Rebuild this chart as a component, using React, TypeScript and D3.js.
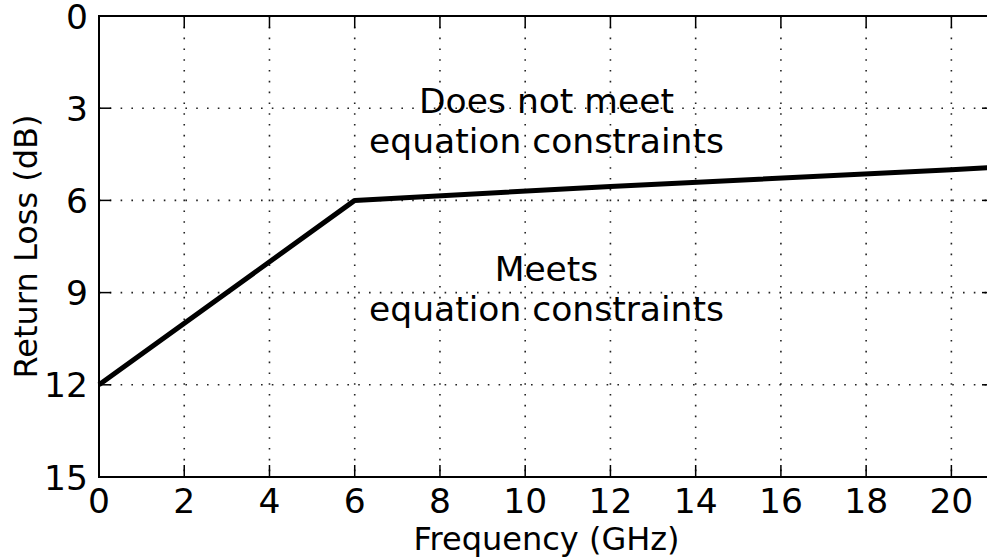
import { useEffect, useRef } from 'react';
import * as d3 from 'd3';

// ── Data ──

const FREQ_GHZ = [0, 6, 12, 20, 21];
const RETURN_LOSS_DB = [12, 6, 5.55, 5.0, 4.93];

const X_TICKS = [0, 2, 4, 6, 8, 10, 12, 14, 16, 18, 20];
const Y_TICKS = [0, 3, 6, 9, 12, 15];

const LABEL_UPPER = ['Does not meet', 'equation constraints'];
const LABEL_LOWER = ['Meets', 'equation constraints'];

const W = 987;
const H = 560;
const M = { left: 99, top: 16, right: -7, bottom: 83 };
const FONT = '"DejaVu Sans", sans-serif';
const FS_TICK = 34.5;
const FS_NOTE = 34.5;
const FS_TITLE = 32;

export default function App() {
  const svgRef = useRef<SVGSVGElement>(null);

  useEffect(() => {
    const svgEl = svgRef.current;
    if (!svgEl) return;
    const svg = d3.select(svgEl);
    svg.selectAll('*').remove();

    const x = d3.scaleLinear().domain([0, 21]).range([M.left, W - M.right]);
    const y = d3.scaleLinear().domain([0, 15]).range([M.top, H - M.bottom]);
    const [x0, x1] = x.range();
    const [y0, y1] = y.range();

    const g = svg.append('g');

    // grid (dotted)
    const grid = g.append('g').attr('stroke', '#222').attr('stroke-width', 1.6)
      .attr('stroke-dasharray', '1.6,9.2');
    grid.selectAll('.gx').data(X_TICKS.filter((t) => t > 0)).enter().append('line')
      .attr('x1', (d) => x(d)).attr('x2', (d) => x(d))
      .attr('y1', y0).attr('y2', y1);
    grid.selectAll('.gy').data(Y_TICKS.filter((t) => t > 0 && t < 15)).enter().append('line')
      .attr('y1', (d) => y(d)).attr('y2', (d) => y(d))
      .attr('x1', x0).attr('x2', x1);

    // curve
    const line = d3.line<number>().x((_, i) => x(FREQ_GHZ[i])).y((d) => y(d));
    g.append('path').datum(RETURN_LOSS_DB)
      .attr('fill', 'none').attr('stroke', '#000').attr('stroke-width', 5)
      .attr('stroke-linejoin', 'round')
      .attr('d', line);

    // ticks (inward, all sides)
    const TL = 12;
    const ticks = g.append('g').attr('stroke', '#000').attr('stroke-width', 1.5);
    X_TICKS.forEach((t) => {
      ticks.append('line').attr('x1', x(t)).attr('x2', x(t)).attr('y1', y1).attr('y2', y1 - TL);
      ticks.append('line').attr('x1', x(t)).attr('x2', x(t)).attr('y1', y0).attr('y2', y0 + TL);
    });
    Y_TICKS.forEach((t) => {
      ticks.append('line').attr('y1', y(t)).attr('y2', y(t)).attr('x1', x0).attr('x2', x0 + TL);
      ticks.append('line').attr('y1', y(t)).attr('y2', y(t)).attr('x1', x1).attr('x2', x1 - TL);
    });

    // spines
    g.append('rect').attr('x', x0).attr('y', y0).attr('width', x1 - x0).attr('height', y1 - y0)
      .attr('fill', 'none').attr('stroke', '#000').attr('stroke-width', 2);

    // tick labels
    const txt = g.append('g').attr('font-family', FONT).attr('fill', '#000');
    txt.selectAll('.xl').data(X_TICKS).enter().append('text')
      .attr('font-size', FS_TICK)
      .attr('x', (d) => x(d)).attr('y', y1 + 36).attr('text-anchor', 'middle')
      .text((d) => String(d));
    txt.selectAll('.yl').data(Y_TICKS).enter().append('text')
      .attr('font-size', FS_TICK)
      .attr('x', x0 - 11).attr('y', (d) => y(d) + 12.5).attr('text-anchor', 'end')
      .text((d) => String(d));

    // axis titles
    txt.append('text').attr('font-size', FS_TITLE)
      .attr('x', (x0 + x1) / 2).attr('y', 550).attr('text-anchor', 'middle')
      .text('Frequency (GHz)');
    txt.append('text').attr('font-size', FS_TITLE)
      .attr('transform', `translate(37,${(y0 + y1) / 2}) rotate(-90)`)
      .attr('text-anchor', 'middle').text('Return Loss (dB)');

    // region annotations
    const cx = (x0 + x1) / 2;
    LABEL_UPPER.forEach((s, i) => {
      txt.append('text').attr('font-size', FS_NOTE)
        .attr('x', cx).attr('y', 113 + i * 40).attr('text-anchor', 'middle').text(s);
    });
    LABEL_LOWER.forEach((s, i) => {
      txt.append('text').attr('font-size', FS_NOTE)
        .attr('x', cx).attr('y', 281 + i * 40).attr('text-anchor', 'middle').text(s);
    });
  }, []);

  return (
    <svg
      ref={svgRef}
      width={W}
      height={H}
      style={{ position: 'absolute', left: 0, top: 0, background: '#fff', display: 'block' }}
    />
  );
}
